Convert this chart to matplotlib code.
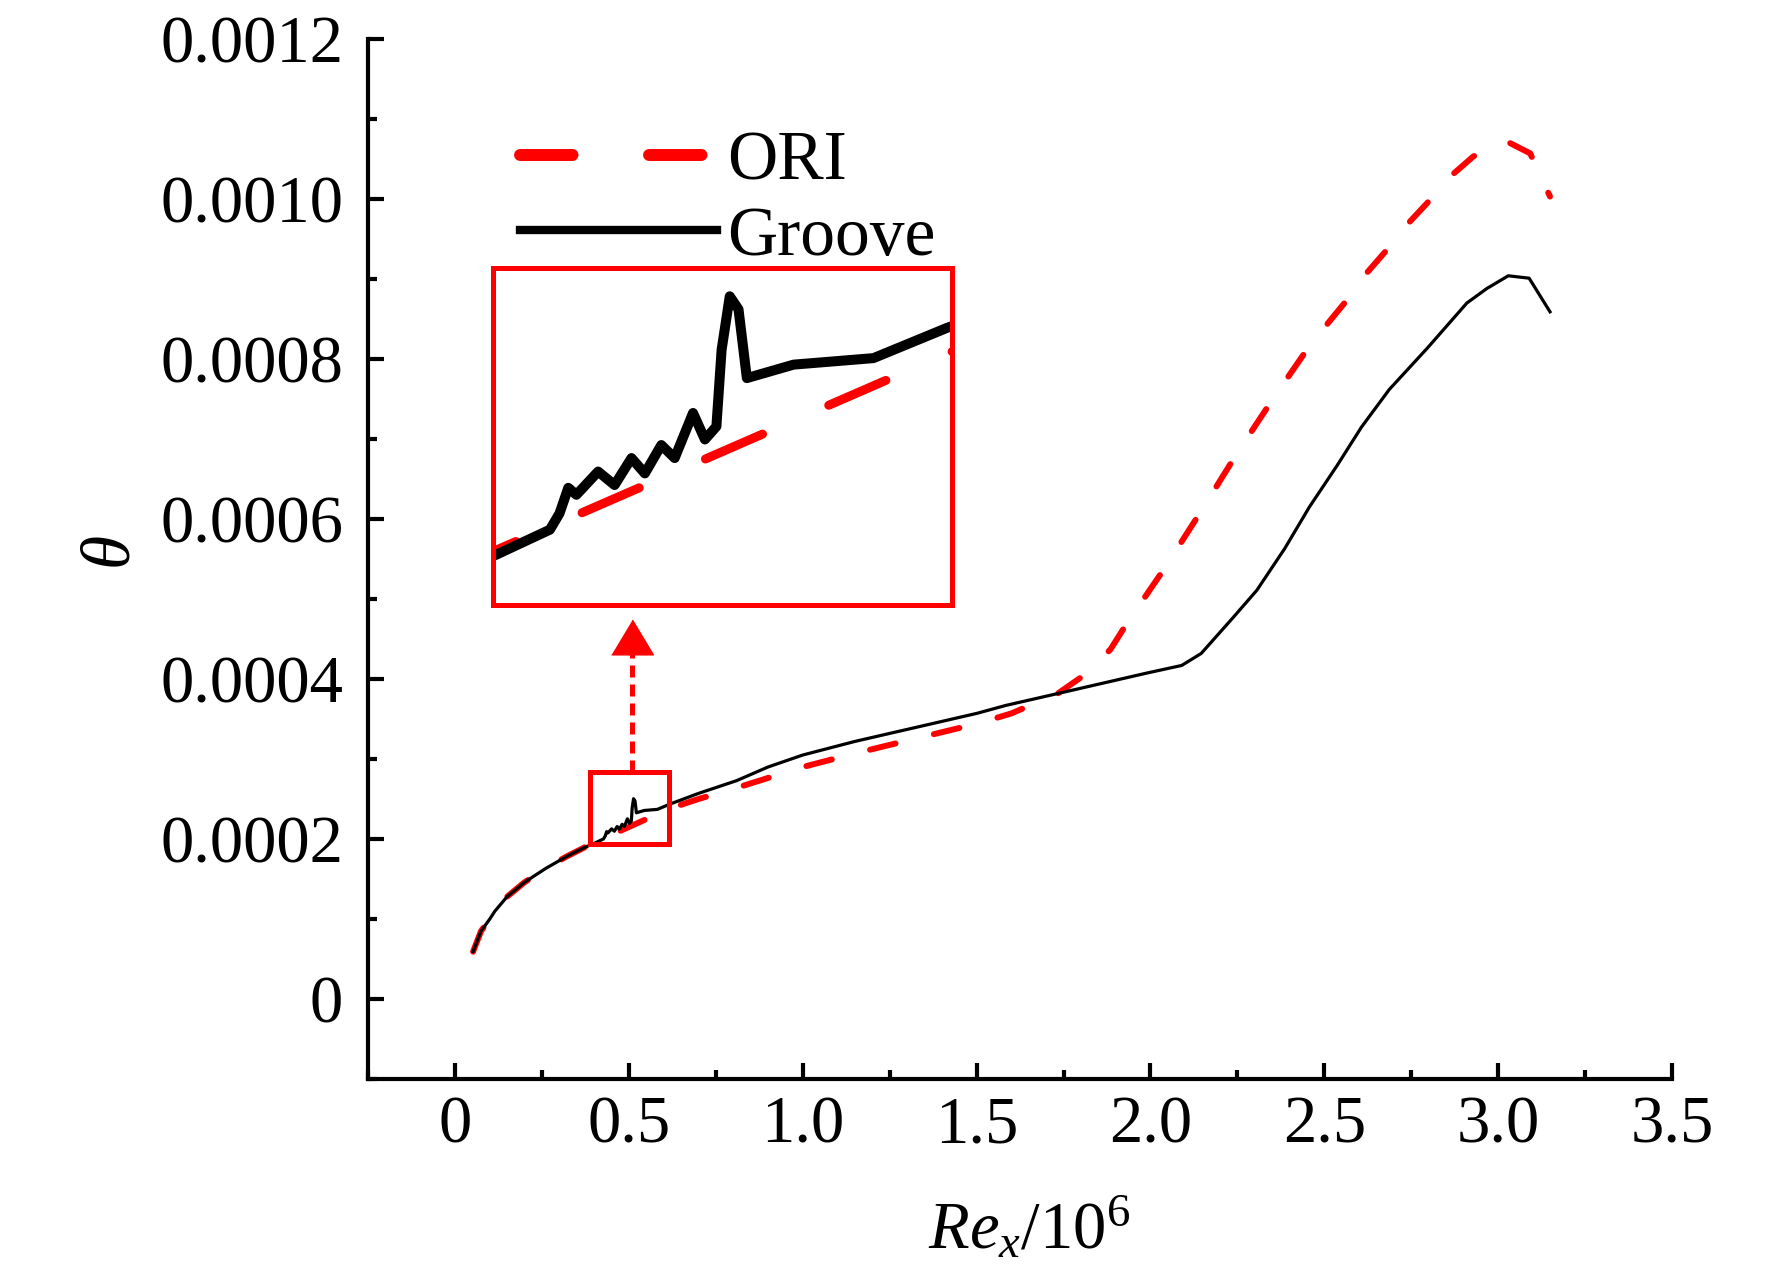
import matplotlib
matplotlib.use('Agg')
import matplotlib.pyplot as plt
from matplotlib.lines import Line2D
from matplotlib.patches import Rectangle
from matplotlib.ticker import MultipleLocator, FixedLocator, FixedFormatter

plt.rcParams['font.family'] = ['Liberation Serif', 'DejaVu Serif']
plt.rcParams['mathtext.fontset'] = 'custom'
plt.rcParams['mathtext.rm'] = 'Liberation Serif'
plt.rcParams['mathtext.it'] = 'Liberation Serif:italic'

# ---------------- data ----------------
groove_x = [0.052, 0.075, 0.10, 0.115, 0.15, 0.20, 0.26, 0.32, 0.37, 0.4015,
            0.4273, 0.4319, 0.4361, 0.4400, 0.4504, 0.4583, 0.4664, 0.4728,
            0.4807, 0.4871, 0.4959, 0.5016, 0.5071, 0.5096, 0.5135, 0.5177,
            0.5217, 0.5441, 0.5824, 0.6176, 0.70, 0.81, 0.90, 1.0, 1.15, 1.3,
            1.5, 1.584, 1.755, 1.985, 2.09, 2.146, 2.236, 2.306, 2.386, 2.457,
            2.537, 2.607, 2.687, 2.795, 2.91, 2.967, 3.029, 3.089, 3.149]
groove_y = [0.0000592, 0.000085, 0.000100, 0.000110, 0.000128, 0.000146,
            0.000163, 0.000178, 0.000189, 0.0001948,
            0.0002002, 0.0002037, 0.0002092, 0.0002077, 0.0002127, 0.0002098,
            0.0002156, 0.0002123, 0.0002184, 0.0002156, 0.0002253, 0.0002196,
            0.0002224, 0.0002389, 0.0002504, 0.0002476, 0.0002328, 0.0002357,
            0.0002371, 0.0002436, 0.000257, 0.000273, 0.000290, 0.000305,
            0.000322, 0.000337, 0.000357, 0.000367, 0.000384, 0.000407,
            0.000417, 0.000432, 0.000476, 0.000511, 0.000563, 0.000615,
            0.000667, 0.000715, 0.000762, 0.000813, 0.000870, 0.000888,
            0.000904, 0.000901, 0.000859]

ori_x = [0.052, 0.075, 0.10, 0.115, 0.15, 0.20, 0.26, 0.32, 0.37, 0.40, 0.62,
         0.70, 0.81, 1.0, 1.15, 1.3, 1.5, 1.60, 1.734, 1.81, 1.885, 1.93, 2.04,
         2.146, 2.246, 2.352, 2.46, 2.56, 2.623, 2.675, 2.738, 2.796, 2.862,
         2.928, 2.98, 3.029, 3.092, 3.149]
ori_y = [0.0000592, 0.000085, 0.000100, 0.000110, 0.000128, 0.000146,
         0.000163, 0.000178, 0.000189, 0.0001955, 0.0002385,
         0.000250, 0.000264, 0.000290, 0.000307, 0.000323, 0.000344, 0.000357,
         0.000382, 0.000405, 0.000437, 0.000468, 0.000538, 0.000610, 0.000680,
         0.000750, 0.000818, 0.000871, 0.000908, 0.000934, 0.000968, 0.000995,
         0.001028, 0.001053, 0.001066, 0.001071, 0.001057, 0.001003]

x_ticks = [0, 0.5, 1.0, 1.5, 2.0, 2.5, 3.0, 3.5]
x_tick_labels = ['0', '0.5', '1.0', '1.5', '2.0', '2.5', '3.0', '3.5']
y_ticks = [0, 0.0002, 0.0004, 0.0006, 0.0008, 0.0010, 0.0012]
y_tick_labels = ['0', '0.0002', '0.0004', '0.0006', '0.0008', '0.0010', '0.0012']
legend_labels = ['ORI', 'Groove']

# zoom window shown in the inset
zoom_xlim = (0.40, 0.62)
zoom_ylim = (0.000184, 0.0002565)
# small marker box on the main axes
box_x0, box_x1 = 0.388, 0.6142
box_y0, box_y1 = 0.000194, 0.0002842
arrow_x = 0.5078
arrow_head_y = 0.0004528
arrow_shaft_top = 0.000431

RED = '#ff0000'

fig = plt.figure(figsize=(17.72, 12.82), dpi=100)
ax = fig.add_axes([0.2077, 0.1583, 0.7359, 0.8113])

ax.plot(ori_x, ori_y, color=RED, lw=4.3, dashes=(4.4, 6.6),
        dash_capstyle='round', zorder=2)
ax.plot(groove_x, groove_y, color='black', lw=2.3, zorder=3)

ax.set_xlim(-0.25, 3.5)
ax.set_ylim(-0.0001, 0.0012)
for s in ['top', 'right']:
    ax.spines[s].set_visible(False)
for s in ['left', 'bottom']:
    ax.spines[s].set_linewidth(3.0)

ax.xaxis.set_major_locator(FixedLocator(x_ticks))
ax.xaxis.set_major_formatter(FixedFormatter(x_tick_labels))
ax.yaxis.set_major_locator(FixedLocator(y_ticks))
ax.yaxis.set_major_formatter(FixedFormatter(y_tick_labels))
ax.xaxis.set_minor_locator(MultipleLocator(0.25))
ax.yaxis.set_minor_locator(MultipleLocator(0.0001))
ax.tick_params(which='both', direction='in', width=3.0, top=False, right=False)
ax.tick_params(which='major', length=11.5, labelsize=48)
ax.tick_params(which='minor', length=6.5)
ax.tick_params(axis='x', which='major', pad=12)
ax.tick_params(axis='y', which='major', pad=18)

ax.set_xlabel(r'$Re_x$/10$^6$', fontsize=48)
ax.xaxis.set_label_coords(0.507, -0.113)
ax.set_ylabel('θ', fontstyle='italic', fontsize=50)
ax.yaxis.set_label_coords(-0.174, 0.51)

# marker box and arrow
ax.add_patch(Rectangle((box_x0, box_y0), box_x1 - box_x0, box_y1 - box_y0,
                       fill=False, ec=RED, lw=3.6, zorder=4))
ax.plot([arrow_x, arrow_x], [box_y1, arrow_shaft_top], color=RED, lw=3.6,
        dashes=(2.4, 1.4), zorder=4)
head = [(-0.6, -0.5), (0.6, -0.5), (0.0, 0.5)]
ax.plot([arrow_x], [arrow_head_y], marker=head, ms=30, color=RED, mec=RED,
        ls='none', clip_on=False, zorder=4)

# legend
handles = [Line2D([], [], color=RED, lw=8.6, dashes=(4.4, 6.4),
                  dash_capstyle='round'),
           Line2D([], [], color='black', lw=6)]
ax.legend(handles=handles, labels=legend_labels, loc='upper left',
          bbox_to_anchor=(0.2935, 0.898), bbox_transform=fig.transFigure,
          frameon=False, fontsize=50, handlelength=2.84, handletextpad=0.14,
          labelspacing=0.17, borderpad=0, borderaxespad=0)

# inset
axins = fig.add_axes([0.2782, 0.5281, 0.259, 0.2629])
axins.plot(ori_x, ori_y, color=RED, lw=6.5, dashes=(6.9, 8.0),
           dash_capstyle='round')
axins.plot(groove_x, groove_y, color='black', lw=7.2,
           solid_joinstyle='round')
axins.set_xlim(*zoom_xlim)
axins.set_ylim(*zoom_ylim)
axins.set_xticks([])
axins.set_yticks([])
for s in axins.spines.values():
    s.set_edgecolor(RED)
    s.set_linewidth(3.6)

fig.savefig('out.png', dpi=100)
